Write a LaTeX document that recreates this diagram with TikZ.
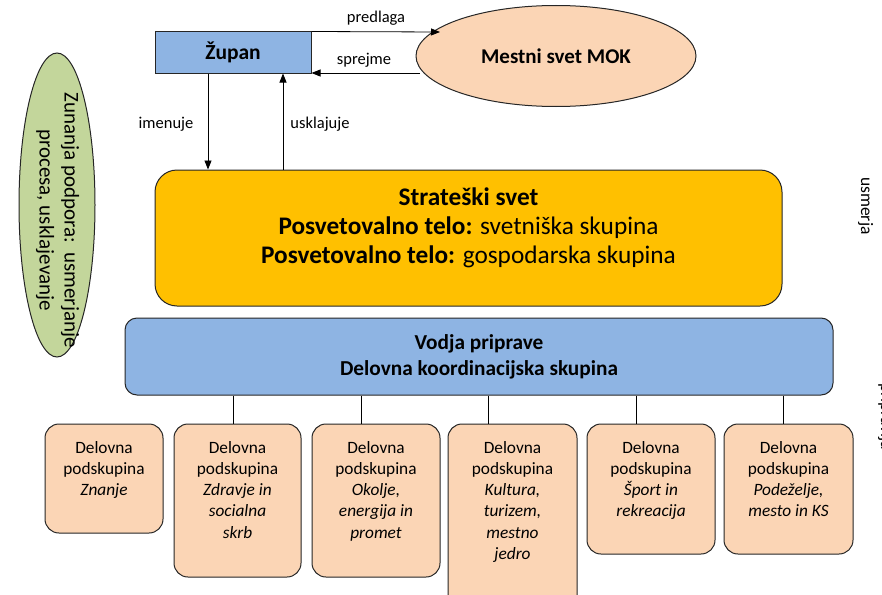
\documentclass[tikz,border=0pt]{standalone}
\usepackage{fontspec}
\setmainfont{Carlito}
\usetikzlibrary{shapes.geometric,arrows.meta}
\definecolor{blu}{HTML}{8EB4E3}
\definecolor{gold}{HTML}{FFC000}
\definecolor{peach}{HTML}{FBD5B5}
\definecolor{grn}{HTML}{C3D69B}
\definecolor{edge}{HTML}{262626}
\begin{document}
\begin{tikzpicture}[x=1pt,y=-1pt,
  box/.style={draw=edge, line width=1pt, inner sep=0pt},
  arr/.style={-{Triangle[length=9pt,width=7pt]}, line width=0.8pt},
  lab/.style={font=\fontsize{16.5}{18}\selectfont, inner sep=0pt},
  sub/.style={box, fill=peach, rounded corners=14pt},
  subtext/.style={align=center, font=\fontsize{17.3}{21.2}\selectfont, anchor=north, inner sep=0pt},
  conn/.style={line width=0.8pt},
]
\useasboundingbox (0,0) rectangle (882,594);

% top
\node[box, fill=blu, minimum width=156pt, minimum height=41pt, font=\bfseries\fontsize{21.5}{24}\selectfont] (zupan) at (233,52.5) {Župan};
\node[box, ellipse, fill=peach, minimum width=280pt, minimum height=101pt, font=\bfseries\fontsize{21}{24}\selectfont] (mok) at (556,56) {Mestni svet MOK};

\coordinate (pe) at (440,32);
\coordinate (ps) at (420,73);
\draw[arr] (zupan.north east) -- (pe);
\draw[arr] (ps) -- (ps -| zupan.east);
\node[lab] (lpred) at (376,18) {predlaga};
\node[lab] (lspr) at (364,60) {sprejme};

% strateski
\node[box, fill=gold, rounded corners=22pt, minimum width=627pt, minimum height=136pt] (ss) at (468.5,238) {};
\node[align=center, anchor=north, font=\fontsize{25.3}{29}\selectfont, inner sep=0pt] (sstext) at (468.5,188)
  {\textbf{Strateški svet}\\\textbf{Posvetovalno telo:} svetniška skupina\\\textbf{Posvetovalno telo:} gospodarska skupina};

\coordinate (ca) at (208,0);
\coordinate (cb) at (283,0);
\draw[arr] (zupan.south -| ca) -- (ss.north -| ca);
\draw[arr] (ss.north -| cb) -- (zupan.south -| cb);
\node[lab] (limen) at (166,124) {imenuje};
\node[lab] (lusk) at (320,124) {usklajuje};

% vodja
\node[box, fill=blu, rounded corners=12pt, minimum width=708pt, minimum height=77pt, align=center,
  font=\bfseries\fontsize{21.3}{26}\selectfont] (vodja) at (479,356.5) {Vodja priprave\\Delovna koordinacijska skupina};

% subgroups
\node[sub, minimum width=118pt, minimum height=109pt] (s1) at (104,478.5) {};
\node[sub, minimum width=127pt, minimum height=153pt] (s2) at (237.5,500.5) {};
\node[sub, minimum width=128pt, minimum height=153pt] (s3) at (376,500.5) {};
\node[sub, minimum width=129pt, minimum height=186pt] (s4) at (512.5,517) {};
\node[sub, minimum width=128pt, minimum height=130pt] (s5) at (651,489) {};
\node[sub, minimum width=129pt, minimum height=130pt] (s6) at (788.5,489) {};

\node[subtext] (t1) at (104,441) {Delovna\\podskupina\\\textit{Znanje}};
\node[subtext] (t2) at (237.5,441) {Delovna\\podskupina\\\textit{Zdravje in}\\\textit{socialna}\\\textit{skrb}};
\node[subtext] (t3) at (376,441) {Delovna\\podskupina\\\textit{Okolje,}\\\textit{energija in}\\\textit{promet}};
\node[subtext] (t4) at (512.5,441) {Delovna\\podskupina\\\textit{Kultura,}\\\textit{turizem,}\\\textit{mestno}\\\textit{jedro}};
\node[subtext] (t5) at (651,441) {Delovna\\podskupina\\\textit{Šport in}\\\textit{rekreacija}};
\node[subtext] (t6) at (788.5,441) {Delovna\\podskupina\\\textit{Podeželje,}\\\textit{mesto in KS}};

\coordinate (k2) at (233,0);
\coordinate (k3) at (361,0);
\coordinate (k4) at (488,0);
\coordinate (k5) at (636,0);
\coordinate (k6) at (783,0);
\draw[conn] (vodja.south -| k2) -- (s2.north -| k2);
\draw[conn] (vodja.south -| k3) -- (s3.north -| k3);
\draw[conn] (vodja.south -| k4) -- (s4.north -| k4);
\draw[conn] (vodja.south -| k5) -- (s5.north -| k5);
\draw[conn] (vodja.south -| k6) -- (s6.north -| k6);

% left ellipse
\node[box, ellipse, fill=grn, minimum width=76pt, minimum height=304pt] (zp) at (57,205) {};
\node[rotate=-90, align=center, font=\fontsize{21}{25}\selectfont, inner sep=0pt] (zptext) at (57.5,220)
  {Zunanja podpora:~~usmerjanje\\procesa, usklajevanje};

% right edge texts
\node[rotate=-90, anchor=base west, font=\fontsize{17.5}{20}\selectfont, inner sep=0pt] (usm) at (861,177) {usmerja};
\node[rotate=-90, anchor=base west, font=\fontsize{17.5}{20}\selectfont, inner sep=0pt] (prip) at (881,383) {pripravlja};
\end{tikzpicture}
\end{document}
